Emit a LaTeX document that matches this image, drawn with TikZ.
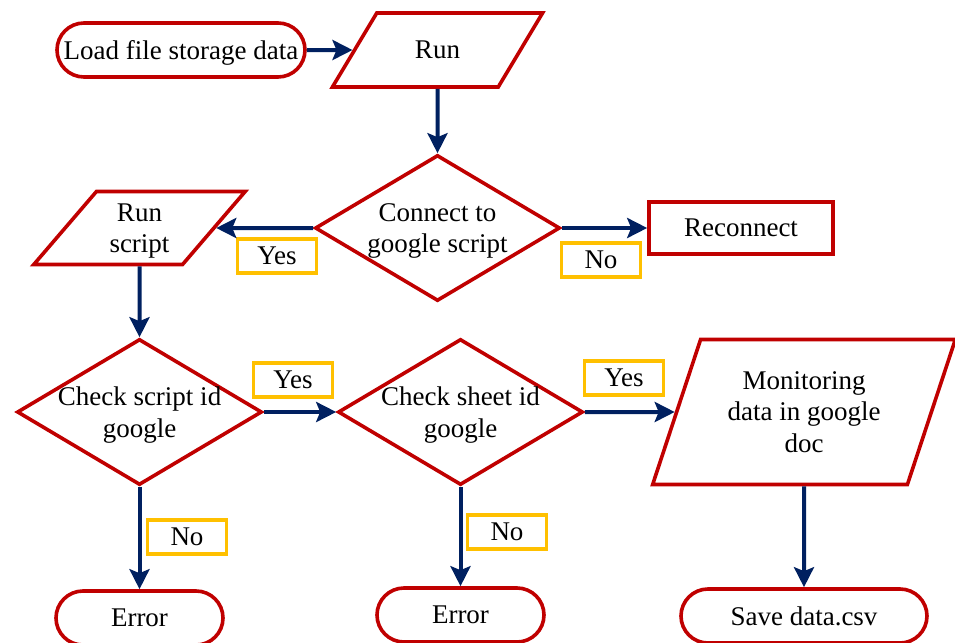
\documentclass[tikz,border=0pt]{standalone}
\usepackage{fontspec}
\setmainfont{Liberation Serif}
\usepackage{xcolor}
\definecolor{flowred}{RGB}{192,0,0}
\definecolor{flowblue}{RGB}{0,32,96}
\definecolor{flowgold}{RGB}{255,192,0}
\usepackage{tikz}
\usetikzlibrary{positioning,arrows.meta,shapes.geometric}
\tikzset{
  terminal/.style={rectangle,rounded corners=13.5pt,draw=flowred,line width=1.8pt,fill=white,
                   align=center,minimum height=27pt,inner sep=1pt,text depth=0pt,
                   font=\fontsize{13.5pt}{15.75pt}\selectfont},
  process/.style ={rectangle,draw=flowred,line width=1.8pt,fill=white,
                   align=center,minimum height=26pt,minimum width=92pt,text depth=0pt,
                   font=\fontsize{13.5pt}{15.75pt}\selectfont},
  io/.style      ={trapezium,trapezium stretches=true,draw=flowred,line width=1.8pt,fill=white,
                   align=center,inner sep=1pt,text depth=0pt,font=\fontsize{13.5pt}{15.75pt}\selectfont},
  decision/.style={diamond,draw=flowred,line width=1.8pt,fill=white,shape aspect=1.68,inner sep=-12pt,
                   align=center,minimum width=122.5pt,minimum height=73pt,text depth=0pt,
                   font=\fontsize{13.5pt}{15.75pt}\selectfont},
  answer/.style  ={rectangle,draw=flowgold,line width=1.7pt,fill=white,inner sep=0pt,
                   minimum width=39.5pt,minimum height=17pt,text depth=0pt,
                   font=\fontsize{13.5pt}{15.75pt}\selectfont},
  flow/.style    ={-{Stealth[length=10pt,width=10pt,inset=2pt]},line width=2pt,draw=flowblue},
}
\begin{document}
\begin{tikzpicture}[x=0.5pt,y=-0.5pt]
  \useasboundingbox (0,0) rectangle (955,643);
  \node[terminal,minimum width=124pt] (load) at (181,50) {Load file storage data};
  \node[io,trapezium left angle=50.5,trapezium right angle=129.5,
        minimum width=105.5pt,minimum height=37pt] (run) at (437.5,50) {Run};
  \node[decision] (connect) at (437.5,228) {Connect to\\google script};
  \node[io,trapezium left angle=48.8,trapezium right angle=131.2,
        minimum width=106pt,minimum height=36.5pt] (runscript) at (139.5,228) {Run\\script};
  \node[process] (reconnect) at (741,228) {Reconnect};
  \node[decision] (scriptid) at (139.5,412) {Check script id\\google};
  \node[decision] (sheetid) at (460.5,412) {Check sheet id\\google};
  \node[io,trapezium left angle=66.8,trapezium right angle=113.2,
        minimum width=151.5pt,minimum height=72.5pt] (monitor) at (804,412) {Monitoring\\data in google\\doc};
  \node[terminal,minimum width=83.5pt] (error1) at (139.5,618) {Error};
  \node[terminal,minimum width=83.5pt] (error2) at (460.5,615) {Error};
  \node[terminal,minimum width=123pt] (save) at (804,616) {Save data.csv};
  % answer boxes
  \node[answer] (yes1) at (277,256) {Yes};
  \node[answer] (no1) at (601,260) {No};
  \node[answer] (yes2) at (293,380) {Yes};
  \node[answer] (yes3) at (624,378) {Yes};
  \node[answer] (no2) at (187,537) {No};
  \node[answer] (no3) at (507,532) {No};
  % connectors
  \draw[flow] (load) -- (run);
  \draw[flow] (run) -- (connect);
  \draw[flow] (connect) -- (runscript);
  \draw[flow] (connect) -- (reconnect);
  \draw[flow] (runscript) -- (scriptid);
  \draw[flow] (scriptid) -- (sheetid);
  \draw[flow] (sheetid) -- (monitor);
  \draw[flow] (scriptid) -- (error1);
  \draw[flow] (sheetid) -- (error2);
  \draw[flow] (monitor) -- (save);
\end{tikzpicture}
\end{document}
